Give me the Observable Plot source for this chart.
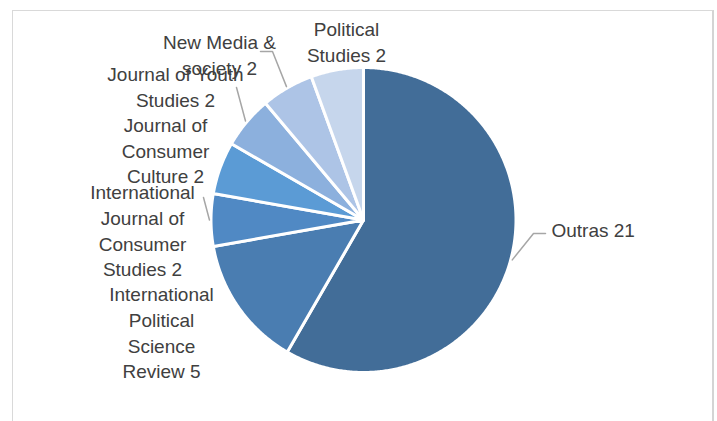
<!DOCTYPE html>
<html>
<head>
<meta charset="utf-8">
<script src="https://cdn.jsdelivr.net/npm/d3@7"></script>
<script src="https://cdn.jsdelivr.net/npm/@observablehq/plot@0.6"></script>
<style>
  html, body { margin: 0; padding: 0; background: #fff; }
  #wrap { position: relative; width: 717px; height: 421px; overflow: hidden; }
  #frame { position: absolute; left: 12px; top: 10px; width: 699px; height: 440px;
           border-left: 1.5px solid #d9d9d9; border-top: 1.5px solid #d9d9d9; border-right: 2.5px solid #d4d4d4; }
  #chart { position: absolute; left: 0; top: 0; }
</style>
</head>
<body>
<div id="wrap"><div id="frame"></div><div id="chart"></div></div>
<script>
// ---- data ----
const categories = [
  "Outras",
  "International Political Science Review",
  "International Journal of Consumer Studies",
  "Journal of Consumer Culture",
  "Journal of Youth Studies",
  "New Media & society",
  "Political Studies"
];
const values = [21, 5, 2, 2, 2, 2, 2];
const labelTexts = [
  "Outras 21",
  "International\nPolitical\nScience\nReview 5",
  "International\nJournal of\nConsumer\nStudies 2",
  "Journal of\nConsumer\nCulture 2",
  "Journal of Youth\nStudies 2",
  "New Media &\nsociety 2",
  "Political\nStudies 2"
];
const colors = ["#426d98", "#4a7db1", "#5089c4", "#5b9bd5", "#8cb0dd", "#adc4e6", "#c6d6ec"];

// ---- layout (pixels) ----
const W = 717, H = 421, CX = 363, CY = 219.5, R = 152.5;
const px = (p) => (p - CX) / R;
const py = (p) => (CY - p) / R;
// label block centres and leader line waypoints (in pixels)
const labelLayout = [
  {x: 551, y: 228, anchor: "start", leader: [[533, 233], [545, 233]]},
  {x: 161, y: 331, anchor: "middle", leader: null},
  {x: 142, y: 229, anchor: "middle", leader: [[203, 197]]},
  {x: 165, y: 149, anchor: "middle", leader: null},
  {x: 175, y: 85, anchor: "middle", leader: [[236, 87]]},
  {x: 219, y: 53, anchor: "middle", leader: [[272, 51], [260, 51]]},
  {x: 346, y: 40, anchor: "middle", leader: null}
];

const data = categories.map((name, i) => ({name, value: values[i], label: labelTexts[i]}));
const arcs = d3.pie().sort(null).value(d => d.value)(data);

// slice polygons in unit-radius coordinates
const slicePts = [];
arcs.forEach(a => {
  slicePts.push({name: a.data.name, x: 0, y: 0});
  const n = Math.max(2, Math.ceil((a.endAngle - a.startAngle) / (Math.PI / 360)));
  for (let k = 0; k <= n; k++) {
    const t = a.startAngle + (a.endAngle - a.startAngle) * k / n;
    slicePts.push({name: a.data.name, x: Math.sin(t), y: Math.cos(t)});
  }
});

// leader lines: start at slice mid-angle on the rim
const leaderPts = [];
arcs.forEach((a, i) => {
  const L = labelLayout[i];
  if (!L.leader) return;
  const m = (a.startAngle + a.endAngle) / 2;
  leaderPts.push({id: i, x: Math.sin(m) * 1.01, y: Math.cos(m) * 1.01});
  L.leader.forEach(([lx, ly]) => leaderPts.push({id: i, x: px(lx), y: py(ly)}));
});

const labels = data.map((d, i) => ({
  text: d.label, x: px(labelLayout[i].x), y: py(labelLayout[i].y), anchor: labelLayout[i].anchor
}));

const plot = Plot.plot({
  width: W,
  height: H,
  margin: 0,
  x: {domain: [px(0), px(W)], axis: null},
  y: {domain: [py(H), py(0)], axis: null},
  color: {domain: categories, range: colors},
  style: {fontFamily: "'Liberation Sans', Arial, sans-serif", background: "transparent"},
  marks: [
    Plot.line(slicePts, {
      x: "x", y: "y", z: "name", fill: "name",
      stroke: "white", strokeWidth: 3, strokeLinejoin: "round", curve: "linear-closed"
    }),
    Plot.line(leaderPts, {x: "x", y: "y", z: "id", stroke: "#a6a6a6", strokeWidth: 1.5}),
    Plot.text(labels.filter(d => d.anchor === "middle"), {
      x: "x", y: "y", text: "text", textAnchor: "middle", lineHeight: 1.35,
      fontSize: 19, fill: "#404040"
    }),
    Plot.text(labels.filter(d => d.anchor === "start"), {
      x: "x", y: "y", text: "text", textAnchor: "start", lineHeight: 1.35,
      fontSize: 19, fill: "#404040"
    })
  ]
});
document.getElementById("chart").appendChild(plot);
</script>
</body>
</html>
